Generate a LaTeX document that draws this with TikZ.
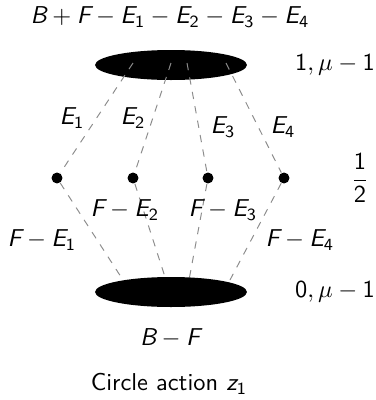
\documentclass[tikz,border=0pt]{standalone}
\usepackage{amsmath,amssymb}
\usetikzlibrary{shapes.geometric, positioning}
% sans serif math, as in slides
\DeclareSymbolFont{sfletters}{TU}{lmss}{m}{sl}
\SetSymbolFont{operators}{normal}{TU}{lmss}{m}{n}
\DeclareMathSymbol{B}{\mathalpha}{sfletters}{`B}
\DeclareMathSymbol{E}{\mathalpha}{sfletters}{`E}
\DeclareMathSymbol{F}{\mathalpha}{sfletters}{`F}
\DeclareMathSymbol{z}{\mathalpha}{sfletters}{`z}

\begin{document}
\begin{tikzpicture}[
	x=0.41pt, y=-0.41pt,
	font=\sffamily,
	% Styles for the fixed components
	blob/.style={ellipse, fill=black, inner sep=0pt, minimum width=62.3pt, minimum height=12.3pt},
	isopoint/.style={circle, fill=black, inner sep=0pt, minimum size=4.5pt},
	% Styles for the lines and labels
	sphere/.style={dashed, gray!90, thin},
	labeltext/.style={text=black, inner sep=1pt}
	]
	\useasboundingbox (0,0) rectangle (375,400);
	
	% ==========================================
	% FIXED COMPONENTS
	% ==========================================
	\node[blob] (maxset) at (171,65) {};
	\node[isopoint] (p1) at (57,178) {};
	\node[isopoint] (p2) at (133,178) {};
	\node[isopoint] (p3) at (208,178) {};
	\node[isopoint] (p4) at (284,178) {};
	
	% ends of the spheres on the two surfaces
	\coordinate (t1) at (133,63);
	\coordinate (t2) at (171,63);
	\coordinate (t3) at (187,63);
	\coordinate (t4) at (226,63);
	\coordinate (b1) at (123,280);
	\coordinate (b2) at (166,280);
	\coordinate (b3) at (189,280);
	\coordinate (b4) at (230,280);
	
	% ==========================================
	% SPHERES
	% ==========================================
	\draw[sphere] (t1) -- (p1) -- (b1);
	\draw[sphere] (t2) -- (p2) -- (b2);
	\draw[sphere] (t3) -- (p3) -- (b3);
	\draw[sphere] (t4) -- (p4) -- (b4);
	
	\node[blob] (minset) at (171,292) {};
	
	% ==========================================
	% LABELS
	% ==========================================
	\node[labeltext] (topclass) at (170,17) {$B+F-E_1-E_2-E_3-E_4$};
	\node[labeltext] (topval) at (335,65) {$1,\mu-1$};
	\node[labeltext] (e1) at (72,118) {$E_1$};
	\node[labeltext] (e2) at (133,118) {$E_2$};
	\node[labeltext] (e3) at (223,127) {$E_3$};
	\node[labeltext] (e4) at (283,127) {$E_4$};
	\node[labeltext] (midval) at (360,178) {$\dfrac{1}{2}$};
	\node[labeltext] (fe2) at (125,210) {$F-E_2$};
	\node[labeltext] (fe3) at (223,210) {$F-E_3$};
	\node[labeltext] (fe1) at (42,240) {$F-E_1$};
	\node[labeltext] (fe4) at (300,240) {$F-E_4$};
	\node[labeltext] (botval) at (335,292) {$0,\mu-1$};
	\node[labeltext] (botclass) at (170,338) {$B-F$};
	\node[labeltext] (caption) at (169,384) {Circle action $z_1$};
	
\end{tikzpicture}
\end{document}
